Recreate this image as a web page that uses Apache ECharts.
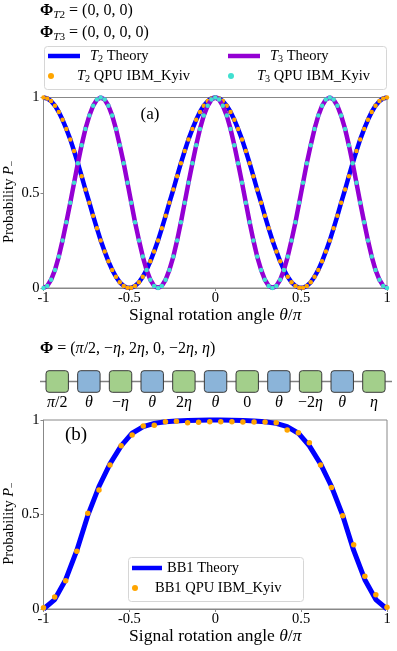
<!DOCTYPE html>
<html>
<head>
<meta charset="utf-8">
<script src="https://cdn.jsdelivr.net/npm/echarts@6/dist/echarts.min.js"></script>
<style>
html, body { margin: 0; padding: 0; background: #fff; }
#chart { width: 397px; height: 651px; }
</style>
</head>
<body>
<div id="chart"></div>
<script>
// panel (a): signal rotation angle theta/pi (91 samples)
var thetaA = [-1, -.978, -.956, -.933, -.911, -.889, -.867, -.844, -.822, -.8,
    -.778, -.756, -.733, -.711, -.689, -.667, -.644, -.622, -.6, -.578,
    -.556, -.533, -.511, -.489, -.467, -.444, -.422, -.4, -.378, -.356,
    -.333, -.311, -.289, -.267, -.244, -.222, -.2, -.178, -.156, -.133,
    -.111, -.089, -.067, -.044, -.022, 0, .022, .044, .067, .089,
    .111, .133, .156, .178, .2, .222, .244, .267, .289, .311,
    .333, .356, .378, .4, .422, .444, .467, .489, .511, .533,
    .556, .578, .6, .622, .644, .667, .689, .711, .733, .756,
    .778, .8, .822, .844, .867, .889, .911, .933, .956, .978, 1];

// T2 theory curve
var t2Theory = [1, .995, .981, .957, .924, .883, .835, .780, .719, .655, .587, .517, .448, .379, .313, .250,
    .192, .140, .095, .059, .030, .011, .001, .001, .011, .030, .059, .095, .140, .192, .250, .313,
    .379, .448, .517, .587, .655, .719, .780, .835, .883, .924, .957, .981, .995, 1,
    .995, .981, .957, .924, .883, .835, .780, .719, .655, .587, .517, .448, .379, .313, .250,
    .192, .140, .095, .059, .030, .011, .001, .001, .011, .030, .059, .095, .140, .192, .250, .313,
    .379, .448, .517, .587, .655, .719, .780, .835, .883, .924, .957, .981, .995, 1];

// T3 theory curve
var t3Theory = [0, .011, .043, .095, .165, .25, .345, .448, .552, .655, .75, .835, .905, .957, .989, 1,
    .989, .957, .905, .835, .75, .655, .552, .448, .345, .25, .165, .095, .043, .011, 0,
    .011, .043, .095, .165, .25, .345, .448, .552, .655, .75, .835, .905, .957, .989, 1,
    .989, .957, .905, .835, .75, .655, .552, .448, .345, .25, .165, .095, .043, .011, 0,
    .011, .043, .095, .165, .25, .345, .448, .552, .655, .75, .835, .905, .957, .989, 1,
    .989, .957, .905, .835, .75, .655, .552, .448, .345, .25, .165, .095, .043, .011, 0];

// QPU points sit on top of the theory curves (no visible deviation)
var t2Qpu = t2Theory.slice();
var t3Qpu = t3Theory.slice();

// panel (b): BB1 sequence, 32 samples
var thetaB = [-1, -.935, -.871, -.806, -.742, -.677, -.613, -.548, -.484, -.419, -.355, -.290, -.226, -.161, -.097, -.032,
    .032, .097, .161, .226, .290, .355, .419, .484, .548, .613, .677, .742, .806, .871, .935, 1];
var bb1Theory = [0, .05, .155, .31, .495, .648, .768, .863, .93, .965, .982, .991, .995, .998, .999, 1,
    1, .999, .998, .995, .991, .982, .965, .93, .863, .768, .648, .495, .31, .155, .05, 0];
var bb1Qpu = [.007, .063, .15, .306, .507, .63, .762, .864, .921, .968, .972, .991, .993, .986, .988, .991,
    .991, .991, .989, .989, .989, .986, .947, .933, .88, .762, .643, .493, .34, .173, .076, .009];

// gate sequence drawn above panel (b)
var gateLabels = ['{i|π}{r|/2}', '{i|θ}', '{r|−}{i|η}', '{i|θ}', '{r|2}{i|η}', '{i|θ}',
    '{r|0}', '{i|θ}', '{r|−2}{i|η}', '{i|θ}', '{i|η}'];
var gateKinds = ['phase', 'signal', 'phase', 'signal', 'phase', 'signal',
    'phase', 'signal', 'phase', 'signal', 'phase'];

var serif = "'Liberation Serif', 'DejaVu Serif', serif";

function makeRich(size) {
    return {
        r: {fontFamily: serif, fontSize: size, color: '#000', lineHeight: size + 3},
        i: {fontFamily: serif, fontSize: size, fontStyle: 'italic', color: '#000', lineHeight: size + 3},
        b: {fontFamily: serif, fontSize: size, fontWeight: 'bold', color: '#000', lineHeight: size + 3},
        sub: {fontFamily: serif, fontSize: size * 0.7, color: '#000', lineHeight: 10, verticalAlign: 'bottom'},
        subi: {fontFamily: serif, fontSize: size * 0.7, fontStyle: 'italic', color: '#000', lineHeight: 10, verticalAlign: 'bottom'}
    };
}

function pairs(xs, ys) {
    var out = [];
    for (var i = 0; i < xs.length; i++) {
        out.push([xs[i], ys[i]]);
    }
    return out;
}

var legendText = {
    'T2 Theory': '{i|T}{sub|2}{r| Theory}',
    'T3 Theory': '{i|T}{sub|3}{r| Theory}',
    'T2 QPU': '{i|T}{sub|2}{r| QPU IBM_Kyiv}',
    'T3 QPU': '{i|T}{sub|3}{r| QPU IBM_Kyiv}',
    'BB1 Theory': '{r|BB1 Theory}',
    'BB1 QPU': '{r|BB1 QPU IBM_Kyiv}'
};

function legendItem(name, left, centerY, isLine, w, pad) {
    return {
        data: [{name: name, icon: isLine ? 'rect' : 'circle'}],
        left: left,
        top: centerY - 8.5,
        padding: 0,
        z: 20,
        selectedMode: false,
        itemWidth: w,
        itemHeight: isLine ? 4.5 : 6,
        formatter: function (n) { return legendText[n]; },
        textStyle: {rich: makeRich(14.5), padding: [0, 0, 0, pad]}
    };
}

function makeX(gridIndex) {
    return {
        type: 'value', gridIndex: gridIndex, min: -1, max: 1, interval: 0.5,
        name: '{r|Signal rotation angle }{i|θ}{r|/}{i|π}',
        nameLocation: 'middle', nameGap: 17, nameMoveOverlap: false,
        nameTextStyle: {rich: makeRich(17.5)},
        axisLine: {show: true, onZero: false, lineStyle: {color: '#888'}},
        axisTick: {show: true, length: 3, lineStyle: {color: '#888'}},
        axisLabel: {fontFamily: serif, fontSize: 14.5, color: '#000', margin: 3},
        splitLine: {show: false}
    };
}

function makeY(gridIndex) {
    return {
        type: 'value', gridIndex: gridIndex, min: 0, max: 1, interval: 0.5,
        name: '{r|Probability }{i|P}{sub|−}',
        nameLocation: 'middle', nameGap: 26, nameMoveOverlap: false,
        nameTextStyle: {rich: makeRich(14.5), padding: [0, 18, 0, 0]},
        axisLine: {show: true, onZero: false, lineStyle: {color: '#888'}},
        axisTick: {show: true, length: 3, lineStyle: {color: '#888'}},
        axisLabel: {fontFamily: serif, fontSize: 14.5, color: '#000', margin: 4},
        splitLine: {show: false}
    };
}

// build the gate boxes + labels
function gateGraphics() {
    var g = [];
    var x0 = 57.2, step = 31.67, cy = 381.5;
    g.push({type: 'line', shape: {x1: 40, y1: cy, x2: 392, y2: cy}, style: {stroke: '#808080', lineWidth: 1.5}, z: 1});
    for (var i = 0; i < gateLabels.length; i++) {
        var cx = x0 + i * step;
        g.push({
            type: 'rect', z: 2,
            shape: {x: cx - 11.2, y: cy - 10.8, width: 22.4, height: 21.6, r: 3},
            style: {fill: gateKinds[i] == 'phase' ? '#a3cf8b' : '#8bb4d9', stroke: '#3a3a3a', lineWidth: 1}
        });
        g.push({
            type: 'text', z: 2, x: cx, y: 403,
            style: {text: gateLabels[i], rich: makeRich(16), align: 'center', verticalAlign: 'middle'}
        });
    }
    return g;
}

var myChart = echarts.init(document.getElementById('chart'));

var graphics = [
    {type: 'text', left: 40, top: 3, style: {text: '{b|Φ}{subi|T}{sub|2}{r| = (0, 0, 0)}', rich: makeRich(16)}},
    {type: 'text', left: 40, top: 25, style: {text: '{b|Φ}{subi|T}{sub|3}{r| = (0, 0, 0, 0)}', rich: makeRich(16)}},
    {type: 'text', left: 40, top: 341, style: {text: '{b|Φ}{r| = (}{i|π}{r|/2, −}{i|η}{r|, 2}{i|η}{r|, 0, −2}{i|η}{r|, }{i|η}{r|)}', rich: makeRich(16)}},
    {type: 'text', x: 150, y: 115, style: {text: '(a)', font: '17px ' + serif, fill: '#000', align: 'center', verticalAlign: 'middle'}, z: 5},
    {type: 'text', x: 76, y: 435, style: {text: '(b)', font: '19px ' + serif, fill: '#000', align: 'center', verticalAlign: 'middle'}, z: 5},
    // legend frames
    {type: 'rect', z: 10, shape: {x: 44.5, y: 46.5, width: 342, height: 43, r: 3}, style: {fill: '#fff', stroke: '#d6d6d6', lineWidth: 1}},
    {type: 'rect', z: 10, shape: {x: 128.5, y: 557.5, width: 175, height: 44, r: 3}, style: {fill: '#fff', stroke: '#d6d6d6', lineWidth: 1}}
].concat(gateGraphics());

var option = {
    animation: false,
    backgroundColor: '#fff',
    grid: [
        {left: 43.5, top: 97.5, width: 343.5, height: 190.5, outerBoundsMode: 'none', containLabel: false,
            show: true, borderColor: '#888', borderWidth: 1},
        {left: 43.5, top: 420, width: 343.5, height: 189, outerBoundsMode: 'none', containLabel: false,
            show: true, borderColor: '#888', borderWidth: 1}
    ],
    xAxis: [makeX(0), makeX(1)],
    yAxis: [makeY(0), makeY(1)],
    legend: [
        legendItem('T2 Theory', 48, 57, true, 32, 5),
        legendItem('T3 Theory', 228, 57, true, 32, 5),
        legendItem('T2 QPU', 48, 77, false, 32, 5),
        legendItem('T3 QPU', 228, 77, false, 32, 5),
        legendItem('BB1 Theory', 132, 569, true, 30, 0),
        legendItem('BB1 QPU', 132, 589, false, 30, 0)
    ],
    graphic: graphics,
    series: [
        {
            name: 'T2 Theory', type: 'line', xAxisIndex: 0, yAxisIndex: 0,
            data: pairs(thetaA, t2Theory), symbol: 'none', clip: false, z: 2,
            lineStyle: {color: '#0000ff', width: 4.5}, itemStyle: {color: '#0000ff'}
        },
        {
            name: 'T2 QPU', type: 'scatter', xAxisIndex: 0, yAxisIndex: 0,
            data: pairs(thetaA, t2Qpu), symbolSize: 4.5, z: 3,
            itemStyle: {color: '#ffa500', opacity: 1}
        },
        {
            name: 'T3 Theory', type: 'line', xAxisIndex: 0, yAxisIndex: 0,
            data: pairs(thetaA, t3Theory), symbol: 'none', clip: false, z: 4,
            lineStyle: {color: '#9400d3', width: 4.5}, itemStyle: {color: '#9400d3'}
        },
        {
            name: 'T3 QPU', type: 'scatter', xAxisIndex: 0, yAxisIndex: 0,
            data: pairs(thetaA, t3Qpu), symbolSize: 4.5, z: 5,
            itemStyle: {color: '#40e0d0', opacity: 1}
        },
        {
            name: 'BB1 Theory', type: 'line', xAxisIndex: 1, yAxisIndex: 1,
            data: pairs(thetaB, bb1Theory), symbol: 'none', clip: false, z: 2,
            lineStyle: {color: '#0000ff', width: 5}, itemStyle: {color: '#0000ff'}
        },
        {
            name: 'BB1 QPU', type: 'scatter', xAxisIndex: 1, yAxisIndex: 1,
            data: pairs(thetaB, bb1Qpu), symbolSize: 5.5, z: 3,
            itemStyle: {color: '#ffa500', opacity: 1}
        }
    ]
};

myChart.setOption(option);
</script>
</body>
</html>
